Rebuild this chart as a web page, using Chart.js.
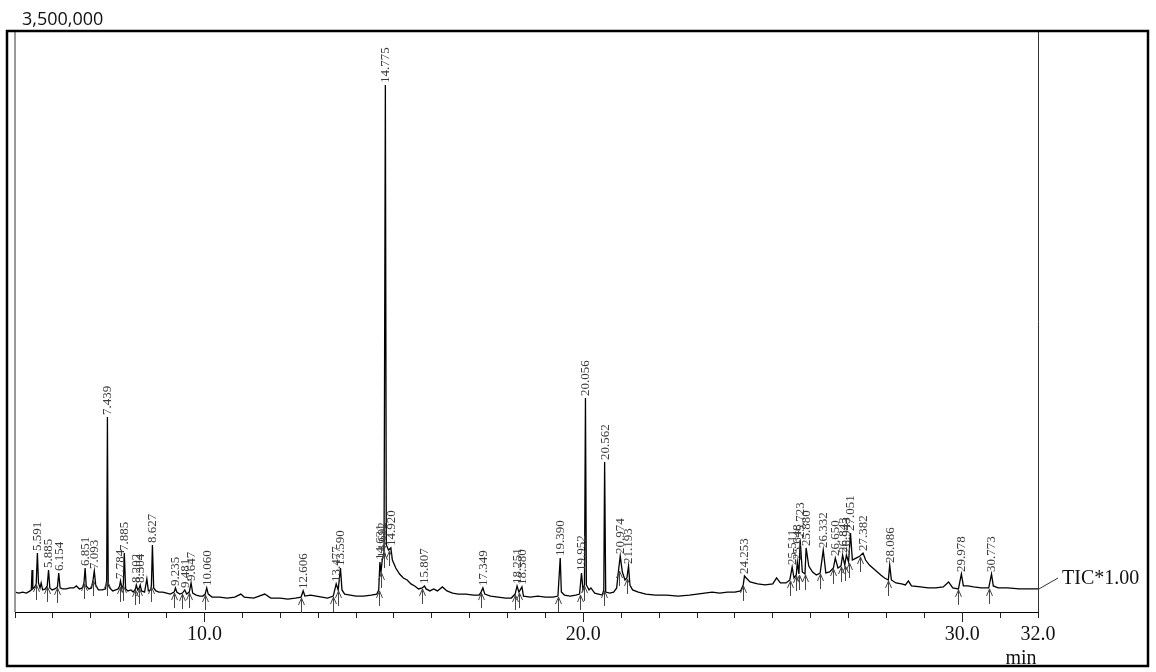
<!DOCTYPE html>
<html><head><meta charset="utf-8">
<script src="https://cdn.jsdelivr.net/npm/chart.js@4.4.1/dist/chart.umd.min.js"></script>
<style>html,body{margin:0;padding:0;background:#fff;}#wrap{width:1156px;height:672px;position:relative;}</style>
</head><body><div id="wrap"><canvas id="c" width="1156" height="672"></canvas></div>
<script>
// retention time (min)
const traceTime = [
5.00,5.10,5.20,5.30,5.40,5.43,5.45,5.47,5.52,5.56,5.591,5.62,5.66,5.69,5.73,5.80,5.85,5.885,5.92,5.98,
6.05,6.12,6.154,6.19,6.25,6.35,6.45,6.55,6.62,6.70,6.78,6.82,6.851,6.88,6.95,7.02,7.06,7.093,7.13,7.20,
7.30,7.39,7.42,7.439,7.46,7.50,7.58,7.66,7.72,7.76,7.784,7.82,7.86,7.885,7.92,7.98,8.06,8.12,8.18,8.202,
8.24,8.28,8.304,8.34,8.42,8.48,8.52,8.58,8.60,8.627,8.66,8.72,8.80,8.90,9.00,9.10,9.20,9.235,9.27,9.35,
9.42,9.481,9.53,9.60,9.647,9.69,9.78,9.88,9.96,10.02,10.06,10.10,10.20,10.40,10.60,10.80,10.96,11.05,11.30,11.59,
11.75,12.00,12.20,12.40,12.55,12.606,12.65,12.80,12.95,13.10,13.25,13.40,13.477,13.53,13.59,13.63,13.70,13.85,14.00,14.20,
14.40,14.55,14.60,14.631,14.66,14.692,14.74,14.775,14.80,14.86,14.92,14.96,15.05,15.15,15.25,15.35,15.45,15.55,15.65,15.75,
15.807,15.85,15.95,16.05,16.15,16.28,16.40,16.55,16.70,16.90,17.10,17.25,17.30,17.349,17.40,17.55,17.75,17.95,18.10,18.20,
18.251,18.30,18.38,18.42,18.60,18.80,19.00,19.20,19.33,19.39,19.42,19.50,19.65,19.80,19.90,19.952,19.99,20.03,20.056,20.08,
20.15,20.20,20.30,20.40,20.50,20.54,20.562,20.59,20.70,20.80,20.88,20.93,20.974,21.03,21.10,21.15,21.193,21.23,21.30,21.45,
21.65,21.90,22.20,22.50,22.80,23.00,23.20,23.40,23.60,23.80,24.00,24.15,24.22,24.253,24.30,24.40,24.60,24.80,25.00,25.10,
25.20,25.35,25.45,25.511,25.56,25.62,25.648,25.69,25.723,25.78,25.85,25.88,25.95,26.05,26.15,26.25,26.332,26.40,26.50,26.60,
26.65,26.72,26.80,26.843,26.90,26.943,27.00,27.051,27.10,27.20,27.30,27.382,27.45,27.55,27.70,27.85,27.95,28.05,28.086,28.13,
28.25,28.40,28.50,28.58,28.66,28.90,29.10,29.30,29.50,29.64,29.75,29.90,29.978,30.03,30.15,30.30,30.50,30.70,30.773,30.82,
30.95,31.20,31.50,31.75,32.00
];
// total ion current (counts)
const traceValue = [
120000,114000,120000,114000,127000,133000,253000,139000,151000,169000,355000,175000,145000,175000,133000,139000,157000,253000,145000,133000,
139000,151000,235000,145000,139000,139000,145000,145000,157000,139000,145000,175000,265000,157000,139000,145000,193000,247000,163000,133000,
133000,139000,193000,1175000,163000,145000,127000,133000,139000,157000,187000,145000,163000,355000,139000,127000,133000,120000,139000,163000,
133000,145000,163000,127000,120000,199000,127000,133000,157000,404000,145000,127000,120000,120000,114000,108000,120000,145000,120000,108000,
114000,133000,108000,120000,175000,114000,102000,96000,96000,108000,145000,108000,90000,90000,84000,90000,108000,90000,84000,108000,
84000,84000,78000,84000,90000,127000,96000,102000,96000,90000,84000,96000,169000,133000,265000,133000,108000,102000,96000,96000,
102000,108000,133000,301000,241000,313000,361000,3175000,404000,373000,386000,313000,265000,229000,205000,193000,169000,157000,139000,145000,
157000,139000,127000,139000,127000,151000,127000,114000,108000,108000,102000,102000,120000,145000,108000,96000,90000,84000,84000,108000,
157000,120000,151000,96000,90000,96000,90000,90000,96000,325000,120000,102000,96000,102000,108000,235000,133000,163000,1289000,163000,
133000,145000,114000,108000,102000,133000,904000,120000,114000,120000,145000,253000,337000,241000,193000,205000,277000,163000,133000,120000,
108000,102000,102000,96000,102000,108000,114000,120000,114000,120000,120000,127000,163000,217000,205000,181000,169000,163000,169000,205000,
175000,175000,193000,271000,205000,223000,301000,229000,434000,241000,229000,386000,277000,241000,223000,235000,373000,235000,241000,265000,
325000,265000,277000,343000,283000,343000,301000,476000,313000,325000,337000,355000,313000,283000,253000,223000,205000,193000,283000,193000,
175000,169000,163000,187000,157000,151000,145000,145000,151000,181000,145000,139000,229000,157000,157000,151000,145000,145000,229000,157000,
145000,145000,139000,139000,139000
];
// labelled peaks
const peakTimes = [5.591,5.885,6.154,6.851,7.093,7.439,7.784,7.885,8.202,8.304,8.627,9.235,9.481,9.647,10.06,
12.606,13.477,13.59,14.631,14.692,14.775,14.92,15.807,17.349,18.251,18.38,19.39,19.952,20.056,20.562,20.974,21.193,
24.253,25.511,25.648,25.723,25.88,26.332,26.65,26.843,26.943,27.051,27.382,28.086,29.978,30.773];
const peakLabels = ['5.591','5.885','6.154','6.851','7.093','7.439','7.784','7.885','8.202','8.304','8.627','9.235','9.481','9.647','10.060',
'12.606','13.477','13.590','14.631','14.692','14.775','14.920','15.807','17.349','18.251','18.380','19.390','19.952','20.056','20.562','20.974','21.193',
'24.253','25.511','25.648','25.723','25.880','26.332','26.650','26.843','26.943','27.051','27.382','28.086','29.978','30.773'];
const xMin = 5, xMax = 32;
const majorTicks = [10, 20, 30, 32];
const majorTickLabels = ['10.0', '20.0', '30.0', '32.0'];
const yMax = 3500000;
const yMaxLabel = '3,500,000';
const traceName = 'TIC*1.00';
const xUnit = 'min';

const points = traceTime.map((t, i) => ({x: t, y: traceValue[i]}));

const decor = {
  id: 'decor',
  afterDraw(chart) {
    const ctx = chart.ctx, a = chart.chartArea;
    const xs = chart.scales.x, ys = chart.scales.y;
    ctx.save();
    // major ticks (longer)
    ctx.strokeStyle = '#222'; ctx.lineWidth = 1;
    [10, 20, 30].forEach(v => {
      const px = Math.round(xs.getPixelForValue(v)) + 0.5;
      ctx.beginPath(); ctx.moveTo(px, a.bottom); ctx.lineTo(px, a.bottom + 10); ctx.stroke();
    });
    // left gray axis line
    ctx.strokeStyle = '#9a9a9a'; ctx.lineWidth = 2;
    ctx.beginPath(); ctx.moveTo(a.left, a.top); ctx.lineTo(a.left, a.bottom); ctx.stroke();
    // right plot line
    ctx.strokeStyle = '#333'; ctx.lineWidth = 1;
    ctx.beginPath(); ctx.moveTo(Math.round(a.right) + 0.5, a.top); ctx.lineTo(Math.round(a.right) + 0.5, a.bottom); ctx.stroke();
    // outer frame
    ctx.strokeStyle = '#000'; ctx.lineWidth = 2.5;
    ctx.strokeRect(7, 31, 1141, 635);
    // peak labels and integration arrows
    ctx.font = '13px "Liberation Serif", "Times New Roman", serif';
    ctx.fillStyle = '#3a3a3a';
    peakTimes.forEach((t, k) => {
      const i = traceTime.indexOf(t);
      if (i < 0) return;
      const px = xs.getPixelForValue(t);
      const py = ys.getPixelForValue(traceValue[i]);
      ctx.save();
      ctx.translate(px + 0.5, py - 2);
      ctx.rotate(-Math.PI / 2);
      ctx.textAlign = 'left'; ctx.textBaseline = 'middle';
      ctx.fillText(peakLabels[k], 0, 0);
      ctx.restore();
      // arrow at peak start
      const j = Math.max(0, i - 1);
      const ax = Math.round(xs.getPixelForValue(traceTime[j])) + 0.5;
      const ay = ys.getPixelForValue(traceValue[j]);
      ctx.strokeStyle = '#444'; ctx.lineWidth = 1;
      ctx.beginPath(); ctx.moveTo(ax, ay + 1); ctx.lineTo(ax, ay + 16); ctx.stroke();
      ctx.beginPath(); ctx.moveTo(ax - 3, ay + 8); ctx.lineTo(ax, ay + 1); ctx.lineTo(ax + 3, ay + 8); ctx.stroke();
    });
    // y max label
    ctx.fillStyle = '#111';
    ctx.font = '18px "Open Sans", sans-serif';
    ctx.textAlign = 'left'; ctx.textBaseline = 'alphabetic';
    ctx.fillText(yMaxLabel, 22, 25);
    // trace name with leader
    const lastY = ys.getPixelForValue(traceValue[traceValue.length - 1]);
    ctx.strokeStyle = '#333'; ctx.lineWidth = 1;
    ctx.beginPath(); ctx.moveTo(a.right + 1, lastY); ctx.lineTo(1058, 578); ctx.stroke();
    ctx.font = '20px "Liberation Serif", "Times New Roman", serif';
    ctx.fillStyle = '#111';
    ctx.fillText(traceName, 1062, 584);
    // unit
    ctx.textAlign = 'center';
    ctx.fillText(xUnit, 1021, 664);
    ctx.restore();
  }
};

new Chart(document.getElementById('c'), {
  type: 'line',
  data: { datasets: [{ data: points, borderColor: '#000', borderWidth: 1.3, pointRadius: 0, tension: 0, fill: false }] },
  options: {
    responsive: false, animation: false, devicePixelRatio: 1,
    layout: { padding: { left: 15, right: 118, top: 31, bottom: 0 } },
    plugins: { legend: { display: false }, tooltip: { enabled: false } },
    scales: {
      x: {
        type: 'linear', min: xMin, max: xMax,
        afterFit: s => { s.height = 60; },
        ticks: {
          stepSize: 1, autoSkip: false, maxRotation: 0, padding: 5, color: '#111',
          font: { family: '"Liberation Serif", "Times New Roman", serif', size: 20 },
          callback: v => { const k = majorTicks.indexOf(v); return k >= 0 ? majorTickLabels[k] : ''; }
        },
        grid: { drawOnChartArea: false, drawTicks: true, tickLength: 6, color: '#222' },
        border: { display: true, color: '#000', width: 1 }
      },
      y: { display: false, min: 0, max: yMax }
    }
  },
  plugins: [decor]
});
</script></body></html>
